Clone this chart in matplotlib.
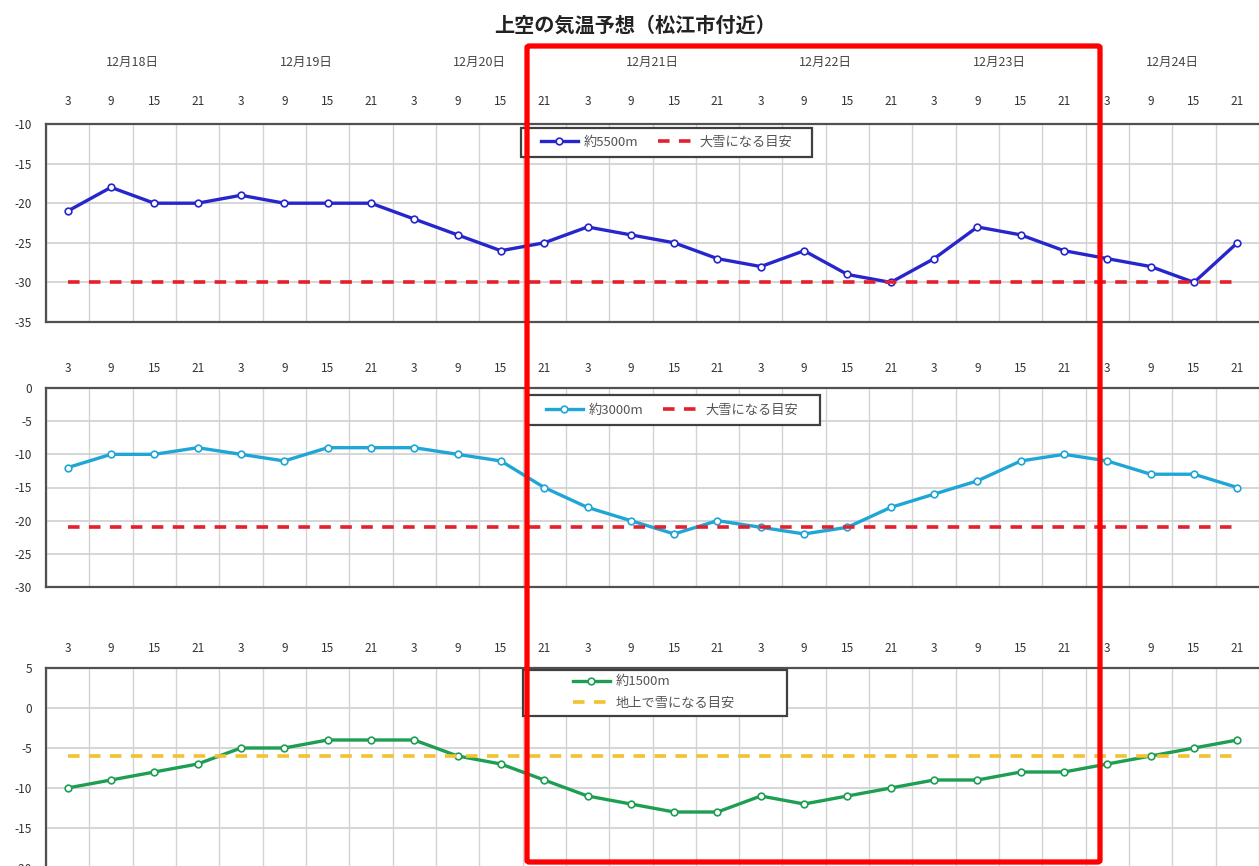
import numpy as np
import matplotlib
matplotlib.use('Agg')
import matplotlib.pyplot as plt
import matplotlib.transforms as mtransforms
from matplotlib.patches import FancyBboxPatch, Rectangle

plt.rcParams['font.family'] = ['Noto Sans CJK JP', 'DejaVu Sans']
plt.rcParams['axes.unicode_minus'] = False

# data
dates = ['12月18日', '12月19日', '12月20日', '12月21日', '12月22日', '12月23日', '12月24日']
hours = ['3', '9', '15', '21'] * 7

t5500 = [-21, -18, -20, -20, -19, -20, -20, -20, -22, -24, -26, -25, -23, -24,
         -25, -27, -28, -26, -29, -30, -27, -23, -24, -26, -27, -28, -30, -25]
t3000 = [-12, -10, -10, -9, -10, -11, -9, -9, -9, -10, -11, -15, -18, -20,
         -22, -20, -21, -22, -21, -18, -16, -14, -11, -10, -11, -13, -13, -15]
t1500 = [-10, -9, -8, -7, -5, -5, -4, -4, -4, -6, -7, -9, -11, -12,
         -13, -13, -11, -12, -11, -10, -9, -9, -8, -8, -7, -6, -5, -4]
thr5500 = -30
thr3000 = -21
thr1500 = -6

W, H = 1259, 866
fig = plt.figure(figsize=(W / 100, H / 100), dpi=100)

x = np.arange(len(hours))


def make_ax(top, bottom, ylim, yticks, pad):
    ax = fig.add_axes([46 / W, 1 - bottom / H, (W - 46) / W, (bottom - top) / H])
    ax.set_xlim(-0.5, 27.25)
    ax.set_ylim(*ylim)
    ax.set_yticks(yticks)
    ax.set_xticks(x)
    ax.set_xticklabels(hours)
    ax.xaxis.tick_top()
    ax.tick_params(axis='x', length=0, pad=pad, labelsize=8.5, colors='#333333')
    ax.tick_params(axis='y', length=0, pad=10, labelsize=8.5, colors='#333333')
    ax.set_xticks(np.arange(-0.5, 28, 1), minor=True)
    ax.tick_params(axis='x', which='minor', length=0)
    ax.grid(axis='x', which='minor', color='#d4d4d4', lw=1)
    ax.grid(axis='y', which='major', color='#d0d0d0', lw=1.2)
    ax.set_axisbelow(True)
    for s in ['top', 'bottom', 'left']:
        ax.spines[s].set_color('#505050')
        ax.spines[s].set_linewidth(1.6)
    ax.spines['right'].set_visible(False)
    return ax


ax1 = make_ax(124, 322, (-35, -10), np.arange(-35, -9, 5), 11.5)
ax2 = make_ax(388, 587, (-30, 0), np.arange(-30, 1, 5), 9.5)
ax3 = make_ax(668, 868, (-20, 5), np.arange(-20, 6, 5), 9.5)

mk = dict(marker='o', markersize=4.8, markerfacecolor='white', markeredgewidth=1.2, lw=2.4)
dash = dict(lw=2.6, dashes=(3.2, 2.6))

ax1.plot(x, t5500, color='#2626cc', label='約5500m', **mk)
ax1.plot(x, np.full(len(x), thr5500), color='#e3202c', label='大雪になる目安', **dash)
ax2.plot(x, t3000, color='#1fa6d6', label='約3000m', **mk)
ax2.plot(x, np.full(len(x), thr3000), color='#e3202c', label='大雪になる目安', **dash)
ax3.plot(x, t1500, color='#1e9e52', label='約1500m', **mk)
ax3.plot(x, np.full(len(x), thr1500), color='#f2c232', label='地上で雪になる目安', **dash)

# date labels above the top panel
trans = mtransforms.blended_transform_factory(ax1.transData, ax1.transAxes)
for d, lab in enumerate(dates):
    ax1.text(1.5 + 4 * d, 1.31, lab, transform=trans, ha='center', va='center',
             fontsize=9, color='#444444')

# legend frames drawn separately so their size matches
frames = [(ax1, (521, 128, 812, 157)), (ax2, (527, 395, 820, 425)), (ax3, (523, 670, 787, 716))]
for ax, (x0, y0, x1, y1) in frames:
    ax.add_patch(Rectangle((x0 / W, 1 - y1 / H), (x1 - x0) / W, (y1 - y0) / H,
                           transform=fig.transFigure, facecolor='white', clip_on=False,
                           edgecolor='#404040', lw=1.6, zorder=4))

leg_kw = dict(loc='center left', bbox_transform=fig.transFigure, frameon=False,
              fontsize=9.5, handlelength=2.8, handletextpad=0.4, borderpad=0,
              borderaxespad=0)
l1 = ax1.legend(bbox_to_anchor=(541 / W, 1 - 142.5 / H), ncol=2, columnspacing=1.5, **leg_kw)
l2 = ax2.legend(bbox_to_anchor=(546 / W, 1 - 410 / H), ncol=2, columnspacing=1.5, **leg_kw)
l3 = ax3.legend(bbox_to_anchor=(573 / W, 1 - 692.5 / H), ncol=1, labelspacing=0.65, **leg_kw)
for lg in (l1, l2, l3):
    lg.set_zorder(6)
    for t in lg.get_texts():
        t.set_color('#555555')

fig.text(635 / W, 1 - 25 / H, '上空の気温予想（松江市付近）', ha='center', va='center',
         fontsize=14.5, fontweight='bold', color='#222222')

# highlight box
rect = FancyBboxPatch((527 / W, 1 - 862 / H), (1100 - 527) / W, (862 - 46) / H,
                      boxstyle='round,pad=0,rounding_size=0.002', transform=fig.transFigure,
                      fill=False, edgecolor='#ff0000', lw=3.8, zorder=10)
fig.patches.append(rect)

fig.savefig('out.png', dpi=100)
